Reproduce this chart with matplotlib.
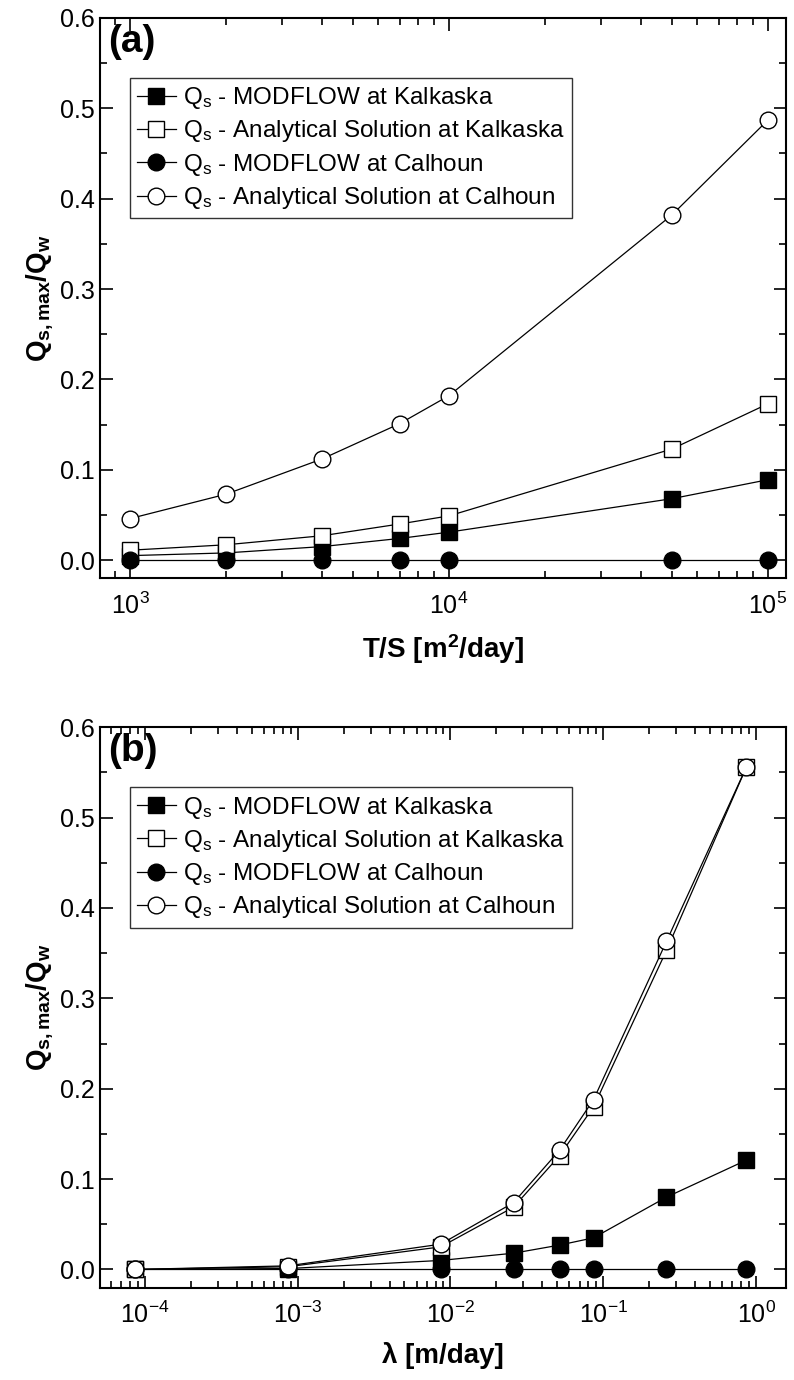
import matplotlib
matplotlib.use("Agg")
import matplotlib.pyplot as plt
from matplotlib.ticker import MultipleLocator, LogLocator

plt.rcParams['font.family'] = ['Liberation Sans', 'DejaVu Sans']
plt.rcParams['mathtext.fontset'] = 'custom'
plt.rcParams['mathtext.rm'] = 'Liberation Sans'
plt.rcParams['mathtext.it'] = 'Liberation Sans:italic'
plt.rcParams['mathtext.bf'] = 'Liberation Sans:bold'
plt.rcParams['axes.unicode_minus'] = False

# ---- panel (a): T/S ----
ts = [1000, 2000, 4000, 7000, 10000, 50000, 100000]
a_mod_kal = [0.005, 0.008, 0.015, 0.024, 0.031, 0.068, 0.089]
a_ana_kal = [0.011, 0.017, 0.027, 0.040, 0.049, 0.123, 0.173]
a_mod_cal = [0.0, 0.0, 0.0, 0.0, 0.0, 0.0, 0.0]
a_ana_cal = [0.046, 0.073, 0.112, 0.151, 0.182, 0.382, 0.487]

# ---- panel (b): lambda ----
lam = [8.64e-5, 8.64e-4, 8.64e-3, 2.59e-2, 5.18e-2, 8.64e-2, 2.59e-1, 8.64e-1]
b_mod_kal = [0.0, 0.001, 0.010, 0.018, 0.027, 0.035, 0.080, 0.121]
b_ana_kal = [0.0, 0.003, 0.025, 0.069, 0.126, 0.180, 0.353, 0.556]
b_mod_cal = [0.0, 0.0, 0.0, 0.0, 0.0, 0.0, 0.0, 0.0]
b_ana_cal = [0.0, 0.004, 0.028, 0.074, 0.132, 0.188, 0.363, 0.556]

labels = ["Q$_\\mathregular{s}$ - MODFLOW at Kalkaska",
          "Q$_\\mathregular{s}$ - Analytical Solution at Kalkaska",
          "Q$_\\mathregular{s}$ - MODFLOW at Calhoun",
          "Q$_\\mathregular{s}$ - Analytical Solution at Calhoun"]
markers = ["s", "s", "o", "o"]
fills = ["black", "white", "black", "white"]

fig = plt.figure(figsize=(7.94, 13.8), dpi=100)
ax_a = fig.add_axes([0.126, 0.581, 0.864, 0.406])
ax_b = fig.add_axes([0.126, 0.067, 0.864, 0.406])


def draw(ax, x, series, xlim, xlabel, tag):
    for ys, m, fc, lab in zip(series, markers, fills, labels):
        ax.plot(x, ys, color="black", lw=0.9, marker=m, ms=11 if m == "s" else 12,
                mfc=fc, mec="black", mew=1.0, label=lab)
    ax.set_xscale("log")
    ax.set_xlim(*xlim)
    ax.set_ylim(-0.02, 0.6)
    ax.yaxis.set_major_locator(MultipleLocator(0.1))
    ax.yaxis.set_minor_locator(MultipleLocator(0.05))
    ax.xaxis.set_major_locator(LogLocator(base=10))
    ax.xaxis.set_minor_locator(LogLocator(base=10, subs=range(2, 10)))
    ax.tick_params(which="both", direction="in", top=True, right=True,
                   labelsize=18, width=1.2)
    ax.tick_params(which="major", length=9)
    ax.tick_params(which="minor", length=5)
    ax.tick_params(axis="x", pad=10)
    for s in ax.spines.values():
        s.set_linewidth(1.5)
    ax.set_ylabel(r"$\mathbf{Q_{s,max}/Q_w}$", fontsize=20, labelpad=4)
    ax.set_xlabel(xlabel, fontsize=20, fontweight="bold", labelpad=10)
    ax.text(0.012, 0.99, tag, transform=ax.transAxes, fontsize=28,
            fontweight="bold", va="top", ha="left")
    leg = ax.legend(loc="upper left", bbox_to_anchor=(0.043, 0.893), fontsize=17.5,
                    frameon=True, fancybox=False, edgecolor="black",
                    handlelength=1.6, handletextpad=0.3, borderpad=0.3,
                    labelspacing=0.3, borderaxespad=0)
    leg.get_frame().set_linewidth(1.0)


draw(ax_a, ts, [a_mod_kal, a_ana_kal, a_mod_cal, a_ana_cal],
     (805, 1.14e5), r"T/S [m$^\mathbf{2}$/day]", "(a)")
draw(ax_b, lam, [b_mod_kal, b_ana_kal, b_mod_cal, b_ana_cal],
     (5.1e-5, 1.57), "λ [m/day]", "(b)")

fig.savefig("out.png", dpi=100)
